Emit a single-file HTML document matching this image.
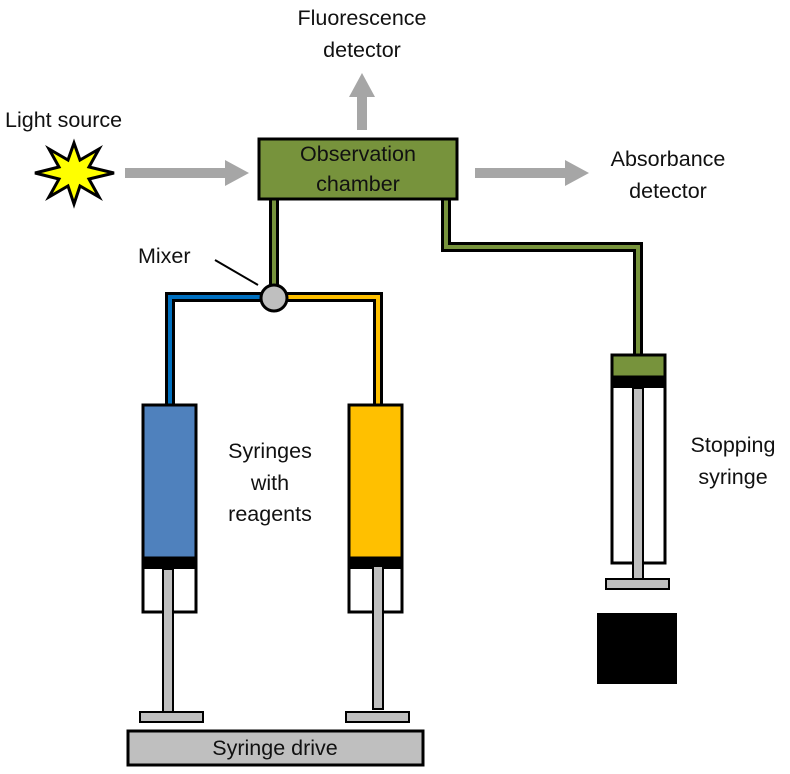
<!DOCTYPE html>
<html><head><meta charset="utf-8"><style>body{margin:0;background:#fff}svg{display:block}text{font-family:"Liberation Sans",sans-serif;font-size:21.5px;fill:#111}</style></head><body>
<svg width="790" height="774" viewBox="0 0 790 774" xmlns="http://www.w3.org/2000/svg">
<g fill="#a6a6a6">
<rect x="125" y="168" width="100" height="10"/><polygon points="225,160 249,173 225,186"/>
<rect x="357" y="95" width="10" height="35"/><polygon points="349,97 362,73 375,97"/>
<rect x="475" y="168" width="90" height="10"/><polygon points="565,160 589,173 565,186"/>
</g>
<polygon points="74,143 80,160 99,149 89,167 114,173 89,179 99,197 80,186 74,204 68,186 49,197 59,179 35,173 59,167 49,149 68,160" fill="#ffff00" stroke="#000" stroke-width="3"/>
<g fill="none" stroke-linejoin="miter">
<polyline points="170,404 170,297 274,297" stroke="#000" stroke-width="10"/>
<polyline points="170,404 170,297 274,297" stroke="#0070c0" stroke-width="4"/>
<polyline points="274,297 378,297 378,404" stroke="#000" stroke-width="10"/>
<polyline points="274,297 378,297 378,404" stroke="#ffc000" stroke-width="4"/>
<polyline points="274,198 274,297" stroke="#000" stroke-width="10"/>
<polyline points="274,198 274,297" stroke="#77933c" stroke-width="4"/>
<polyline points="446,198 446,247 638,247 638,355" stroke="#000" stroke-width="10"/>
<polyline points="446,198 446,247 638,247 638,355" stroke="#77933c" stroke-width="4"/>
</g>
<rect x="259" y="139" width="198" height="60" fill="#77933c" stroke="#000" stroke-width="3"/>
<text x="358" y="161" text-anchor="middle">Observation</text>
<text x="358" y="191" text-anchor="middle">chamber</text>
<circle cx="274" cy="298" r="13" fill="#bfbfbf" stroke="#000" stroke-width="3"/>
<line x1="215" y1="260" x2="258" y2="285" stroke="#000" stroke-width="2"/>
<rect x="143" y="405" width="53" height="207" fill="#fff" stroke="#000" stroke-width="3"/>
<rect x="143" y="405" width="53" height="153" fill="#4f81bd" stroke="#000" stroke-width="3"/>
<rect x="143" y="558" width="53" height="11" fill="#000"/>
<rect x="163" y="569" width="10" height="144" fill="#bfbfbf" stroke="#000" stroke-width="2"/>
<rect x="140" y="712" width="63" height="10" fill="#bfbfbf" stroke="#000" stroke-width="2"/>
<rect x="349" y="405" width="53" height="207" fill="#fff" stroke="#000" stroke-width="3"/>
<rect x="349" y="405" width="53" height="153" fill="#ffc000" stroke="#000" stroke-width="3"/>
<rect x="349" y="558" width="53" height="11" fill="#000"/>
<rect x="373" y="566" width="10" height="143" fill="#bfbfbf" stroke="#000" stroke-width="2"/>
<rect x="346" y="712" width="63" height="10" fill="#bfbfbf" stroke="#000" stroke-width="2"/>
<rect x="128" y="731" width="295" height="34" fill="#bfbfbf" stroke="#000" stroke-width="3"/>
<text x="275" y="755" text-anchor="middle">Syringe drive</text>
<rect x="612" y="355" width="53" height="208" fill="#fff" stroke="#000" stroke-width="3"/>
<rect x="612" y="355" width="53" height="22" fill="#77933c" stroke="#000" stroke-width="3"/>
<rect x="612" y="377" width="53" height="11" fill="#000"/>
<rect x="633" y="388" width="10" height="191" fill="#bfbfbf" stroke="#000" stroke-width="2"/>
<rect x="606" y="579" width="63" height="10" fill="#bfbfbf" stroke="#000" stroke-width="2"/>
<rect x="597" y="613" width="80" height="71" fill="#000"/>
<text x="5" y="127">Light source</text>
<text x="362" y="25" text-anchor="middle">Fluorescence</text>
<text x="362" y="57" text-anchor="middle">detector</text>
<text x="668" y="166" text-anchor="middle">Absorbance</text>
<text x="668" y="198" text-anchor="middle">detector</text>
<text x="138" y="263">Mixer</text>
<text x="270" y="458" text-anchor="middle">Syringes</text>
<text x="270" y="490" text-anchor="middle">with</text>
<text x="270" y="521" text-anchor="middle">reagents</text>
<text x="733" y="452" text-anchor="middle">Stopping</text>
<text x="733" y="484" text-anchor="middle">syringe</text>
</svg>
</body></html>
